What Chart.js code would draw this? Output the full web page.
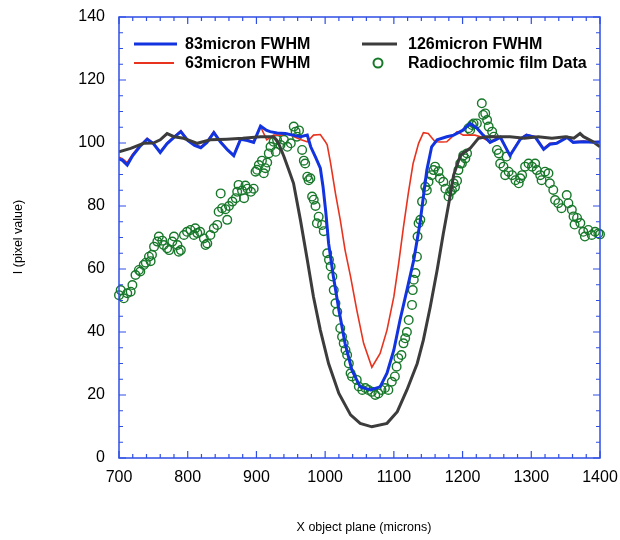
<!DOCTYPE html>
<html>
<head>
<meta charset="utf-8">
<script src="https://cdn.jsdelivr.net/npm/chart.js@4.4.0/dist/chart.umd.min.js"></script>
<style>
  html, body { margin: 0; padding: 0; background: #fff; }
  #wrap { width: 620px; height: 540px; }
</style>
</head>
<body>
<div id="wrap"><canvas id="profile-chart" width="620" height="540"></canvas></div>
<script>
// Series (x in microns, y in pixel value)
const fwhm63X = [700, 705, 712, 720, 730, 741, 750, 760, 770, 780, 790, 800, 810, 819, 828, 838, 848, 858, 867, 877, 887, 896, 906, 915, 925, 935, 945, 955, 965, 974, 983, 993, 1000, 1003, 1008, 1015, 1022, 1029, 1037, 1046, 1056, 1068, 1080, 1090, 1100, 1107, 1114, 1121, 1128, 1136, 1143, 1150, 1160, 1170, 1177, 1185, 1192, 1201, 1210, 1218, 1226, 1240, 1255, 1269, 1284, 1293, 1306, 1318, 1327, 1337, 1352, 1361, 1376, 1390, 1400];
const fwhm63Y = [95.5, 95, 93.8, 96.5, 99, 101.5, 100, 97.2, 100, 102, 103.9, 101, 99.5, 98.8, 100.5, 103.6, 100.5, 98, 96.2, 101.5, 101, 100.4, 105.2, 101, 102.5, 102.5, 103, 102, 101, 100.4, 102.5, 102.7, 100.5, 99.4, 93.5, 84, 75.6, 66, 57.6, 47, 36.4, 28.8, 33.2, 40.6, 51.2, 61.8, 73.4, 84, 93.5, 99.9, 103.3, 103, 100.4, 100.3, 100.4, 102, 103.6, 102.5, 102.5, 102.5, 102, 100.4, 102, 96.2, 101.5, 102.7, 102, 98.3, 99.9, 100.1, 102, 100.4, 100.6, 100.4, 100.5];

const fwhm83X = [700, 705, 712, 720, 730, 741, 750, 760, 770, 780, 790, 800, 810, 819, 828, 838, 848, 858, 867, 877, 887, 896, 906, 915, 920, 930, 942, 953, 964, 974, 979, 986, 993, 997, 1001, 1005, 1012, 1020, 1029, 1039, 1051, 1066, 1080, 1090, 1100, 1109, 1119, 1129, 1138, 1143, 1148, 1155, 1163, 1177, 1187, 1200, 1211, 1221, 1230, 1240, 1255, 1269, 1284, 1293, 1306, 1318, 1327, 1337, 1352, 1361, 1376, 1390, 1400];
const fwhm83Y = [95, 94.5, 93, 96, 98.8, 101.2, 99.8, 97, 99.8, 101.8, 103.6, 100.8, 99.2, 98.5, 100.2, 103.3, 100.2, 97.8, 96, 101.2, 100.8, 100.2, 105.4, 104, 103.6, 103.2, 103, 102.5, 102, 102.5, 98.8, 95.5, 92, 86, 78, 68.2, 57.6, 47, 36.4, 27.9, 22.6, 21.6, 22.6, 26.9, 34.3, 43.8, 53.3, 62.9, 74.5, 83, 91.4, 98.8, 101, 102, 102.5, 104, 106.2, 104.7, 102.5, 100.2, 101.8, 96, 101.2, 102.5, 101.8, 98, 99.6, 99.9, 101.8, 100.2, 100.4, 100.2, 100.3];

const fwhm126X = [700, 717, 736, 750, 760, 770, 780, 794, 814, 833, 857, 880, 906, 925, 932, 940, 947, 954, 964, 974, 983, 993, 1005, 1020, 1037, 1051, 1068, 1090, 1105, 1119, 1134, 1143, 1153, 1163, 1172, 1180, 1187, 1197, 1211, 1223, 1235, 1254, 1269, 1290, 1310, 1330, 1350, 1362, 1371, 1376, 1390, 1400];
const fwhm126Y = [97.2, 98.3, 99.9, 100, 101, 103, 102, 101.5, 99.9, 101, 101.2, 101.5, 102, 102, 100, 95.7, 91.5, 87.2, 75.6, 62.9, 51.2, 40.6, 30, 20.5, 13.7, 11, 9.9, 11, 14.7, 21.6, 30, 37.5, 48, 59.7, 71.3, 80.9, 89.8, 96.2, 98.3, 101.5, 102, 102, 102, 101.5, 102, 101.5, 102, 101.5, 103, 102, 100.4, 98.8];

const filmX = [700, 702.5, 707, 712, 717, 719.5, 724, 729, 731, 736, 739, 743.6, 746, 748, 751, 755.8, 758, 763, 765, 770, 773, 777.6, 780, 785, 787, 790, 794.5, 799, 804, 809, 811, 814, 818, 823.5, 826, 828.5, 833, 838, 843, 845, 848, 850, 855, 857.5, 860, 865, 870, 872, 874, 879, 882, 884, 887, 892, 896, 898.7, 901, 903.5, 908, 910.7, 913, 915.7, 918, 920.5, 925, 928, 930, 935, 940, 945, 950, 954.3, 957, 959, 962, 966.5, 969, 971, 974, 976, 978.5, 981, 983.4, 986, 988, 990.6, 995.5, 998, 1003, 1005.6, 1008, 1010.5, 1012.5, 1015, 1017.6, 1022, 1024.6, 1027, 1029.6, 1032, 1034.5, 1037, 1039, 1046, 1049, 1054, 1058.5, 1063, 1068, 1073, 1077.5, 1082, 1087, 1092, 1097, 1101.5, 1104, 1106.5, 1111, 1114, 1116.5, 1119, 1121.6, 1126.4, 1127.5, 1129, 1131.4, 1133.6, 1134.5, 1136, 1138.5, 1141, 1145.7, 1148, 1150.5, 1155, 1157.7, 1160, 1165, 1167, 1172, 1175, 1179.6, 1182, 1184.5, 1187, 1189, 1192, 1194, 1196.6, 1199, 1201, 1204, 1206.5, 1208.6, 1211, 1213.7, 1216, 1220.8, 1228, 1230, 1233, 1235.7, 1238, 1243, 1245.5, 1250, 1252.8, 1254.7, 1259.5, 1262, 1264, 1267, 1272, 1277, 1281.7, 1284, 1286.6, 1291, 1296, 1301, 1305.6, 1308, 1313, 1315, 1320, 1325, 1327, 1332, 1334.6, 1339.3, 1344, 1351.6, 1354, 1359, 1361.5, 1363, 1366.6, 1371.4, 1375.7, 1378, 1383, 1388, 1392.8, 1397.6, 1400];
const filmY = [51.7, 53.3, 50.7, 52.3, 52.8, 54.9, 58.1, 59.7, 59.2, 61.3, 62, 63.9, 62.5, 64.5, 67.1, 68.7, 70.3, 69, 67.6, 66.6, 66, 68.7, 70.3, 67.6, 65.5, 66, 70.8, 71.8, 72.4, 70.8, 72.9, 71.4, 71.8, 69.7, 67.6, 68.1, 70.8, 72.9, 74, 78.2, 84, 79.3, 79, 75.6, 80, 81.4, 82.5, 84.5, 86.7, 84.9, 82.5, 86.5, 85.5, 84.5, 85.5, 90.9, 91.5, 93, 94.4, 90.4, 92, 93.8, 96.7, 98.8, 100.4, 97.2, 101, 99.4, 101, 98.8, 99.9, 105.2, 103.6, 102, 104, 97.8, 94.4, 93.5, 89.3, 88.2, 88.8, 83, 82, 80, 74.5, 76.6, 74, 72, 65, 62.9, 60.8, 57.6, 53.3, 49.1, 46.4, 41.2, 38.5, 36.4, 34.3, 32.7, 30, 26.9, 25.9, 24.8, 22.7, 21.6, 22.2, 21.6, 21, 20, 20.5, 21.6, 22.2, 21.6, 24.2, 25.9, 29, 31.7, 32.7, 36.4, 38, 40, 43.8, 48.6, 53.3, 56.6, 58.7, 63.9, 70.3, 74.5, 75.6, 81.4, 86.1, 85, 87.7, 89.8, 91.4, 92.5, 91, 88.8, 87.7, 85.5, 83, 84.5, 85, 87.2, 86, 88, 91.4, 93.5, 93.5, 96, 95.1, 96.7, 104.7, 104.1, 105.7, 106.2, 106.2, 112.6, 108.9, 109.4, 107.3, 105.2, 103.6, 102, 97.8, 96.7, 93.5, 92.5, 89.8, 95.7, 90.9, 89.8, 88.2, 87.2, 88.8, 89.8, 92.5, 93.5, 92.5, 93.5, 91.4, 89.8, 88.2, 90.9, 90.4, 87.2, 85.1, 81.9, 80.9, 79.3, 83.5, 80.9, 78.8, 76.7, 74.1, 76.2, 74.6, 71.8, 70.3, 72.4, 70.8, 71.8, 71.3, 71];

const xTicks = [700, 800, 900, 1000, 1100, 1200, 1300, 1400];
const yTicks = [0, 20, 40, 60, 80, 100, 120, 140];

function toPoints(xs, ys) {
    return xs.map((x, i) => ({ x: x, y: ys[i] }));
}

const frameColor = '#2f4ee6';
const blueColor = '#1233e0';
const redColor = '#e8331e';
const grayColor = '#3c3c3c';
const greenColor = '#17782a';

// Frame, inward ticks, legend and axis titles
const framePlugin = {
    id: 'framePlugin',
    afterDatasetsDraw(chart) {
        const ctx = chart.ctx;
        const a = chart.chartArea;
        const xs = chart.scales.x;
        const ys = chart.scales.y;
        ctx.save();
        ctx.strokeStyle = frameColor;
        ctx.lineWidth = 1.5;
        ctx.strokeRect(a.left, a.top, a.right - a.left, a.bottom - a.top);

        ctx.lineWidth = 1.2;
        ctx.beginPath();
        for (let v = 700; v <= 1400; v += 20) {
            const px = xs.getPixelForValue(v);
            const len = (v % 100 === 0) ? 7 : 4;
            ctx.moveTo(px, a.bottom); ctx.lineTo(px, a.bottom - len);
            ctx.moveTo(px, a.top); ctx.lineTo(px, a.top + len);
        }
        for (let v = 0; v <= 140; v += 5) {
            const py = ys.getPixelForValue(v);
            const len = (v % 20 === 0) ? 7 : 4;
            ctx.moveTo(a.left, py); ctx.lineTo(a.left + len, py);
            ctx.moveTo(a.right, py); ctx.lineTo(a.right - len, py);
        }
        ctx.stroke();

        // legend
        ctx.font = 'bold 16px "Liberation Sans", Arial, sans-serif';
        ctx.fillStyle = '#000';
        ctx.textBaseline = 'middle';
        ctx.textAlign = 'left';
        const rows = [
            { x1: 134, x2: 177, y: 44, color: blueColor, w: 3, text: '83micron FWHM', tx: 185 },
            { x1: 134, x2: 174, y: 63, color: redColor, w: 2, text: '63micron FWHM', tx: 185 },
            { x1: 362, x2: 397, y: 44, color: grayColor, w: 3, text: '126micron FWHM', tx: 408 }
        ];
        rows.forEach(r => {
            ctx.strokeStyle = r.color;
            ctx.lineWidth = r.w;
            ctx.beginPath();
            ctx.moveTo(r.x1, r.y); ctx.lineTo(r.x2, r.y);
            ctx.stroke();
            ctx.fillText(r.text, r.tx, r.y + 1);
        });
        ctx.strokeStyle = greenColor;
        ctx.lineWidth = 2;
        ctx.beginPath();
        ctx.arc(378, 63, 4.5, 0, Math.PI * 2);
        ctx.stroke();
        ctx.fillText('Radiochromic film Data', 408, 64);

        // axis titles
        ctx.font = '12.5px "Liberation Sans", Arial, sans-serif';
        ctx.textAlign = 'center';
        ctx.fillText('X object plane (microns)', 364, 528);
        ctx.translate(19, 237);
        ctx.rotate(-Math.PI / 2);
        ctx.fillText('I (pixel value)', 0, 0);
        ctx.restore();
    }
};

const tickFont = { family: '"Liberation Sans", Arial, sans-serif', size: 16 };

const ctx = document.getElementById('profile-chart').getContext('2d');
const profileChart = new Chart(ctx, {
    type: 'scatter',
    data: {
        datasets: [
            {
                label: '126micron FWHM',
                type: 'line',
                data: toPoints(fwhm126X, fwhm126Y),
                borderColor: grayColor,
                borderWidth: 3,
                pointRadius: 0,
                tension: 0,
                fill: false
            },
            {
                label: '83micron FWHM',
                type: 'line',
                data: toPoints(fwhm83X, fwhm83Y),
                borderColor: blueColor,
                borderWidth: 3,
                pointRadius: 0,
                tension: 0,
                fill: false
            },
            {
                label: '63micron FWHM',
                type: 'line',
                data: toPoints(fwhm63X, fwhm63Y),
                borderColor: redColor,
                borderWidth: 1.6,
                pointRadius: 0,
                tension: 0,
                fill: false
            },
            {
                label: 'Radiochromic film Data',
                data: toPoints(filmX, filmY),
                borderColor: greenColor,
                backgroundColor: 'rgba(0,0,0,0)',
                borderWidth: 1.4,
                pointRadius: 4.3,
                clip: 6
            }
        ]
    },
    options: {
        responsive: false,
        animation: false,
        layout: { padding: { left: 0, right: 20, top: 17, bottom: 0 } },
        plugins: {
            legend: { display: false },
            tooltip: { enabled: false }
        },
        scales: {
            x: {
                type: 'linear',
                min: 700,
                max: 1400,
                grid: { display: false, drawTicks: false },
                border: { display: false },
                afterBuildTicks: s => { s.ticks = xTicks.map(v => ({ value: v })); },
                afterFit: s => {
                    s.height = 82;
                    s.paddingLeft = 0;
                    s.paddingRight = 0;
                },
                ticks: {
                    color: '#000', font: tickFont, padding: 10, maxRotation: 0,
                    callback: v => String(v)
                }
            },
            y: {
                min: 0,
                max: 140,
                grid: { display: false, drawTicks: false },
                border: { display: false },
                afterBuildTicks: s => { s.ticks = yTicks.map(v => ({ value: v })); },
                afterFit: s => {
                    s.width = 119;
                    s.paddingTop = 0;
                    s.paddingBottom = 0;
                },
                ticks: {
                    color: '#000', font: tickFont, padding: 14,
                    callback: v => String(v)
                }
            }
        }
    },
    plugins: [framePlugin]
});
</script>
</body>
</html>
